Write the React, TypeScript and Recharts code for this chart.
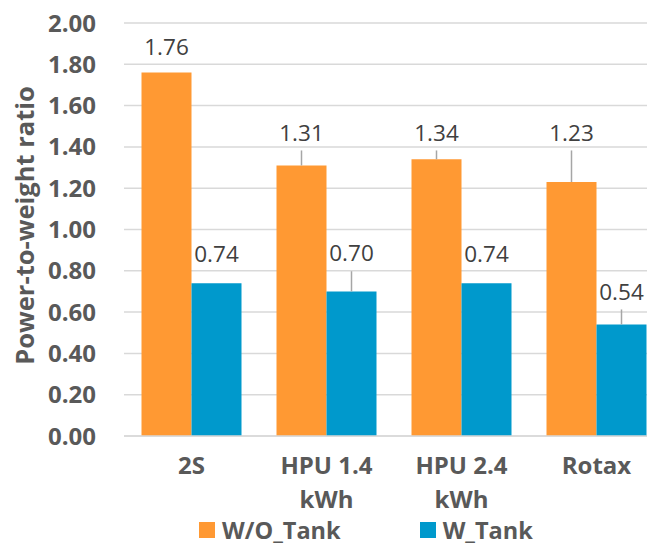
import { BarChart, Bar, XAxis, YAxis, CartesianGrid, Legend, LabelList, Label } from "recharts"

const categories = ["2S", "HPU 1.4\nkWh", "HPU 2.4\nkWh", "Rotax"]
const withoutTank = [1.76, 1.31, 1.34, 1.23]
const withTank = [0.74, 0.7, 0.74, 0.54]
// where each data label sits (in ratio units) and whether Excel drew a leader line to it
const withoutTankLabelAt = [1.885, 1.47, 1.47, 1.47]
const withTankLabelAt = [0.88, 0.885, 0.88, 0.70]
const withoutTankLeader = [false, true, true, true]
const withTankLeader = [false, true, false, true]
const yTicks = [0, 0.2, 0.4, 0.6, 0.8, 1.0, 1.2, 1.4, 1.6, 1.8, 2.0]

const data = categories.map((name, i) => ({
  name,
  wo: withoutTank[i],
  w: withTank[i],
}))

const FONT = "'Open Sans', 'Noto Sans', sans-serif"
const ORANGE = "#FF9933"
const BLUE = "#0099CC"
const AXIS_TEXT = "#595959"

function XTick({ x, y, payload }: any) {
  const lines = String(payload.value).split("\n")
  return (
    <text x={x} y={y} textAnchor="middle" fill={AXIS_TEXT} fontSize={24} fontWeight="bold" fontFamily={FONT}>
      {lines.map((line, i) => (
        <tspan key={i} x={x} dy={i === 0 ? 36 : 34}>
          {line}
        </tspan>
      ))}
    </text>
  )
}

function makeLabel(labelAt: number[], leader: boolean[]) {
  return (props: any) => {
    const { x, y, width, height, value, index } = props
    const v = Number(value)
    const base = y + height
    const perUnit = height / v
    const cy = base - labelAt[index] * perUnit
    const cx = x + width / 2
    return (
      <g>
        <text x={cx} y={cy} dy="0.36em" textAnchor="middle" fill="#404040" fontSize={22.5} fontFamily={FONT}>
          {v.toFixed(2)}
        </text>
        {leader[index] && (
          <line x1={cx} x2={cx} y1={cy + 18} y2={y} stroke="#a6a6a6" strokeWidth={1.5} />
        )}
      </g>
    )
  }
}

function LegendContent() {
  const items = [
    { label: "W/O_Tank", color: ORANGE },
    { label: "W_Tank", color: BLUE },
  ]
  return (
    <div style={{ display: "flex", alignItems: "center", paddingLeft: 199, height: 32, boxSizing: "border-box" }}>
      {items.map((it, i) => (
        <div key={i} style={{ display: "flex", alignItems: "center", marginRight: 79 }}>
          <span style={{ width: 16, height: 16, background: it.color, display: "inline-block", marginRight: 7 }} />
          <span style={{ fontFamily: FONT, fontWeight: "bold", fontSize: 23.5, color: AXIS_TEXT, lineHeight: "32px" }}>{it.label}</span>
        </div>
      ))}
    </div>
  )
}

export default function App() {
  return (
    <div style={{ position: "absolute", left: 0, top: 0, width: 647, height: 546, overflow: "hidden", background: "#fff" }}>
      <BarChart
        width={664}
        height={546}
        data={data}
        margin={{ top: 23, right: 0, left: 0, bottom: 0 }}
        barCategoryGap={17.5}
        barGap={0}
      >
        <CartesianGrid vertical={false} stroke="#d9d9d9" strokeWidth={1.5} />
        <XAxis
          dataKey="name"
          height={78}
          tick={<XTick />}
          tickLine={false}
          axisLine={{ stroke: "#d9d9d9", strokeWidth: 1.5 }}
          tickSize={0}
          interval={0}
        />
        <YAxis
          width={124}
          domain={[0, 2]}
          ticks={yTicks}
          tickFormatter={(v: number) => v.toFixed(2)}
          axisLine={false}
          tickLine={false}
          tickSize={0}
          tickMargin={28}
          tick={{ fill: AXIS_TEXT, fontSize: 24, fontWeight: "bold", fontFamily: FONT }}
        >
          <Label
            content={({ viewBox }: any) => {
              const cx = viewBox.x + 24
              const cy = viewBox.y + viewBox.height / 2 - 4
              return (
                <text
                  x={cx}
                  y={cy}
                  transform={`rotate(-90 ${cx} ${cy})`}
                  textAnchor="middle"
                  dominantBaseline="central"
                  fill={AXIS_TEXT}
                  fontSize={25.5}
                  fontWeight="bold"
                  fontFamily={FONT}
                >
                  Power-to-weight ratio
                </text>
              )
            }}
          />
        </YAxis>
        <Legend verticalAlign="bottom" height={32} content={() => <LegendContent />} />
        <Bar dataKey="wo" name="W/O_Tank" fill={ORANGE} isAnimationActive={false}>
          <LabelList dataKey="wo" content={makeLabel(withoutTankLabelAt, withoutTankLeader)} />
        </Bar>
        <Bar dataKey="w" name="W_Tank" fill={BLUE} isAnimationActive={false}>
          <LabelList dataKey="w" content={makeLabel(withTankLabelAt, withTankLeader)} />
        </Bar>
      </BarChart>
    </div>
  )
}
